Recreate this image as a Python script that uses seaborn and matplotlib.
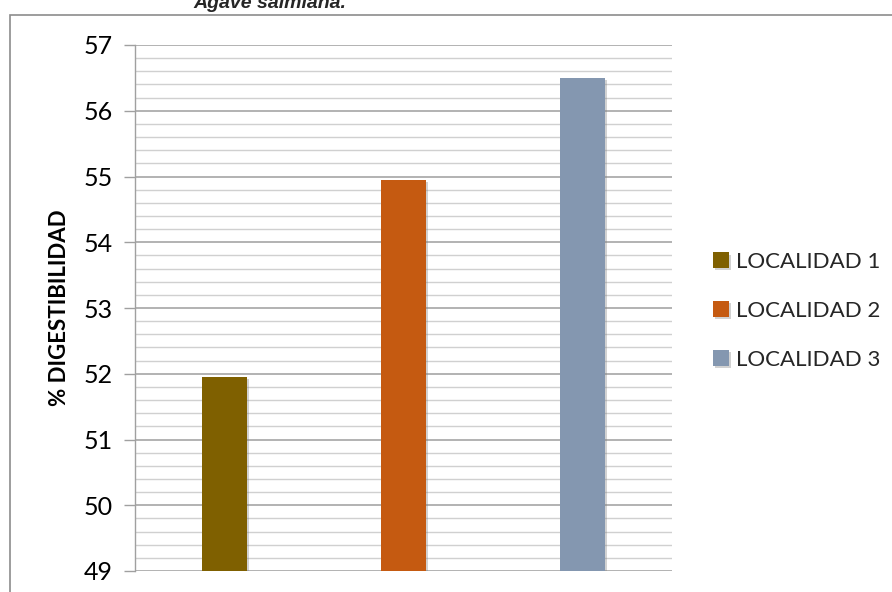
import matplotlib
matplotlib.use("Agg")
import matplotlib.pyplot as plt
import matplotlib.patheffects as pe
from matplotlib.patches import Rectangle
from matplotlib.ticker import MultipleLocator
import seaborn as sns
import pandas as pd

# Data
localidades = ["LOCALIDAD 1", "LOCALIDAD 2", "LOCALIDAD 3"]
digestibilidad = [51.95, 54.95, 56.5]
colores = ["#7F6000", "#C55A11", "#8497B0"]
y_ticks = [49, 50, 51, 52, 53, 54, 55, 56, 57]

sns.set_theme(style="white")
plt.rcParams["font.family"] = ["Lato", "DejaVu Sans"]

df = pd.DataFrame({"localidad": localidades, "valor": digestibilidad})

fig = plt.figure(figsize=(8.92, 5.92), dpi=100)
ax = fig.add_axes([135 / 892, 21 / 592, 537 / 892, 526 / 592])

sns.barplot(data=df, x="localidad", y="valor", hue="localidad",
            palette=colores, width=0.25, dodge=False, legend=True, ax=ax,
            zorder=3, linewidth=0, saturation=1)

for bar in ax.patches:
    bar.set_path_effects([pe.SimplePatchShadow(offset=(1.5, -1.5),
                                               shadow_rgbFace="#808080", alpha=0.35),
                          pe.Normal()])

ax.set_ylim(y_ticks[0], y_ticks[-1])
ax.set_xlim(-0.5, 2.5)
ax.set_yticks(y_ticks)
ax.yaxis.set_minor_locator(MultipleLocator(0.2))
ax.grid(which="major", axis="y", color="#a6a6a6", linewidth=1.2, zorder=0)
ax.grid(which="minor", axis="y", color="#d0d0d0", linewidth=1.0, zorder=0)
ax.set_axisbelow(True)

for s in ["top", "right", "bottom"]:
    ax.spines[s].set_visible(False)
ax.spines["left"].set_color("#a0a0a0")
ax.spines["left"].set_linewidth(1.0)

ax.tick_params(axis="y", which="major", left=True, length=8, width=1,
               color="#a0a0a0", labelsize=18, pad=8, labelcolor="black")
ax.tick_params(axis="y", which="minor", left=False)
ax.tick_params(axis="x", bottom=False, labelbottom=False)
ax.set_xlabel("")
ax.set_ylabel("% DIGESTIBILIDAD", fontsize=16, fontweight="bold",
              color="black", labelpad=10)

# legend at the right side of the chart
handles, labels = ax.get_legend_handles_labels()
ax.get_legend().remove()
fig.legend(handles, labels, loc="center left",
           bbox_to_anchor=(693 / 892, 1 - 311 / 592), frameon=False,
           fontsize=16, handlelength=0.72, handleheight=0.72,
           handletextpad=0.3, labelspacing=1.3)

# chart frame
fig.patches.append(Rectangle((10 / 892, -0.1), 1.2, 1.1 - 15 / 592,
                             transform=fig.transFigure, fill=False,
                             edgecolor="#8c8c8c", linewidth=1.2))

# title (only its last line fits in the figure)
fig.text(270 / 892, 1 - 8 / 592, "Agave salmiana.", ha="center", va="baseline",
         fontsize=14, fontweight="bold", fontstyle="italic",
         family=["Liberation Sans", "DejaVu Sans"])

fig.savefig("out.png", dpi=100)
